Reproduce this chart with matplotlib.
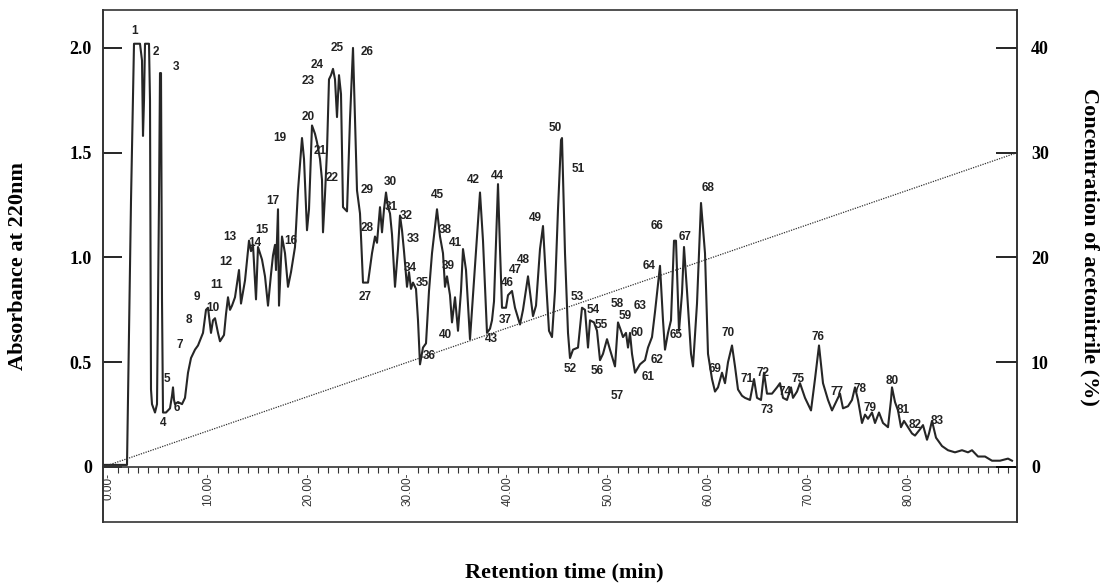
import matplotlib
matplotlib.use("Agg")
import matplotlib.pyplot as plt
from matplotlib.ticker import MultipleLocator, FixedLocator, FixedFormatter

# chromatogram trace: retention time (min) / absorbance at 220 nm
trace_time = [
    -0.5, 1.8, 1.9, 2.3, 2.6, 2.7, 3.2, 3.4, 3.5, 3.6, 3.7, 4.1, 4.2, 4.3, 4.4, 4.7, 4.9,
    5.1, 5.2, 5.3, 5.4, 5.5, 5.8, 6.2, 6.4, 6.5, 6.6, 6.7, 7.0, 7.4, 7.7, 8.0, 8.3, 8.7,
    9.0, 9.5, 9.8, 10.0, 10.3, 10.5, 10.7, 11.0, 11.2, 11.6, 11.8, 12.0, 12.2, 12.4, 12.7,
    13.1, 13.3, 13.7, 14.1, 14.3, 14.5, 14.8, 15.0, 15.4, 15.7, 16.0, 16.3, 16.5, 16.7,
    16.8, 17.0, 17.1, 17.4, 17.7, 18.0, 18.3, 18.7, 19.0, 19.4, 19.6, 19.9, 20.1, 20.4,
    20.7, 20.9, 21.2, 21.4, 21.5, 21.7, 21.9, 22.1, 22.3, 22.5, 22.7, 22.9, 23.1, 23.3,
    23.5, 23.9, 24.2, 24.5, 24.7, 24.9, 25.2, 25.5, 26.0, 26.4, 26.7, 26.9, 27.2, 27.4,
    27.6, 27.8, 28.0, 28.2, 28.4, 28.7, 29.0, 29.2, 29.4, 29.6, 29.9, 30.1, 30.3, 30.5,
    30.8, 31.0, 31.2, 31.5, 31.8, 32.1, 32.4, 32.9, 33.2, 33.5, 33.7, 33.9, 34.2, 34.4,
    34.7, 35.0, 35.3, 35.5, 35.8, 36.2, 36.6, 37.2, 37.5, 37.9, 38.2, 38.4, 38.6, 39.0,
    39.2, 39.4, 39.8, 40.0, 40.4, 40.7, 41.2, 41.5, 42.0, 42.5, 42.8, 43.2, 43.5, 43.8,
    44.1, 44.4, 44.7, 45.0, 45.3, 45.4, 45.7, 46.0, 46.2, 46.5, 47.0, 47.4, 47.7, 48.0,
    48.2, 48.6, 48.9, 49.2, 49.5, 49.9, 50.2, 50.7, 51.0, 51.3, 51.5, 51.8, 52.0, 52.2,
    52.4, 52.7, 53.2, 53.7, 54.0, 54.4, 54.7, 55.2, 55.5, 55.7, 56.0, 56.3, 56.6, 56.8,
    57.1, 57.4, 57.6, 57.9, 58.3, 58.5, 58.9, 59.3, 59.7, 60.0, 60.4, 60.7, 61.0, 61.4,
    61.7, 62.0, 62.4, 62.7, 63.0, 63.4, 63.7, 64.2, 64.6, 64.9, 65.3, 65.6, 65.9, 66.4,
    66.9, 67.2, 67.5, 67.9, 68.3, 68.5, 68.9, 69.2, 69.7, 70.3, 70.7, 71.1, 71.5, 72.0,
    72.4, 72.9, 73.2, 73.5, 74.0, 74.4, 74.7, 75.0, 75.4, 75.7, 76.0, 76.4, 76.7, 77.1,
    77.5, 78.0, 78.3, 78.4, 78.7, 79.0, 79.3, 79.6, 80.0, 80.4, 80.7, 81.2, 81.5, 81.9,
    82.1, 82.4, 82.8, 83.4, 84.0, 84.7, 85.4, 86.0, 86.4, 87.0, 87.7, 88.4, 89.2, 90.0, 90.4,
]
trace_abs = [
    0.01, 0.01, 0.01, 1.27, 2.02, 2.02, 2.02, 1.94, 1.58, 1.75, 2.02, 2.02, 1.75, 0.37, 0.30, 0.26, 0.30,
    1.27, 1.88, 1.88, 0.80, 0.26, 0.26, 0.28, 0.34, 0.38, 0.32, 0.30, 0.31, 0.30, 0.33, 0.45, 0.52, 0.56,
    0.58, 0.64, 0.75, 0.76, 0.64, 0.70, 0.71, 0.64, 0.60, 0.63, 0.73, 0.81, 0.75, 0.77, 0.81,
    0.94, 0.78, 0.89, 1.08, 1.03, 1.06, 0.80, 1.05, 0.99, 0.91, 0.77, 0.92, 1.01, 1.06,
    0.94, 1.23, 0.77, 1.10, 1.02, 0.86, 0.93, 1.05, 1.32, 1.57, 1.47, 1.13, 1.23, 1.63,
    1.59, 1.55, 1.47, 1.37, 1.12, 1.30, 1.51, 1.85, 1.87, 1.90, 1.85, 1.67, 1.87, 1.78,
    1.24, 1.22, 1.66, 2.00, 1.66, 1.32, 1.21, 0.88, 0.88, 1.02, 1.10, 1.07, 1.24, 1.12,
    1.23, 1.31, 1.24, 1.21, 1.11, 0.86, 1.04, 1.20, 1.13, 1.03, 0.86, 0.93, 0.85, 0.88,
    0.85, 0.70, 0.49, 0.57, 0.59, 0.84, 1.02, 1.23, 1.10, 1.02, 0.86, 0.91, 0.82, 0.69,
    0.81, 0.65, 0.84, 1.04, 0.94, 0.61, 0.89, 1.31, 1.08, 0.64, 0.66, 0.70, 0.79, 1.35,
    1.04, 0.76, 0.76, 0.82, 0.84, 0.76, 0.68, 0.75, 0.91, 0.72, 0.77, 1.04, 1.15, 0.89,
    0.65, 0.62, 0.84, 1.23, 1.56, 1.57, 1.02, 0.64, 0.52, 0.56, 0.57, 0.76, 0.75, 0.57,
    0.70, 0.69, 0.65, 0.51, 0.54, 0.61, 0.56, 0.48, 0.69, 0.65, 0.62, 0.64, 0.57, 0.64,
    0.54, 0.45, 0.49, 0.51, 0.57, 0.62, 0.74, 0.96, 0.70, 0.56, 0.64, 0.70, 1.08, 1.08,
    0.65, 0.83, 1.05, 0.84, 0.54, 0.48, 0.78, 1.26, 1.02, 0.54, 0.42, 0.36, 0.38, 0.45,
    0.40, 0.50, 0.58, 0.48, 0.37, 0.34, 0.33, 0.32, 0.42, 0.33, 0.32, 0.45, 0.35, 0.35,
    0.38, 0.40, 0.33, 0.32, 0.38, 0.33, 0.36, 0.40, 0.33, 0.27, 0.42, 0.58, 0.40, 0.32,
    0.27, 0.32, 0.35, 0.28, 0.29, 0.32, 0.38, 0.32, 0.21, 0.25, 0.23, 0.26, 0.21, 0.26,
    0.21, 0.19, 0.32, 0.38, 0.31, 0.27, 0.19, 0.22, 0.19, 0.16, 0.15, 0.18, 0.20, 0.13,
    0.16, 0.22, 0.14, 0.10, 0.08, 0.07, 0.08, 0.07, 0.08, 0.05, 0.05, 0.03, 0.03, 0.04, 0.03,
]

# acetonitrile gradient (dotted line)
gradient_time = [-0.5, 90.9]
gradient_conc = [0, 30]

# peak numbers and where they are printed (time, absorbance)
peak_ids = [str(i) for i in range(1, 18)] + [str(i) for i in range(19, 84)]
peak_time = [
    2.7, 4.8, 6.8, 5.5, 5.9, 6.9, 7.2, 8.1, 8.9, 10.5, 10.9, 11.8, 12.2, 14.7, 15.4, 18.3, 16.5,
    17.2, 20.0, 21.2, 22.4, 20.0, 20.9, 22.9, 25.9, 25.7, 25.9, 25.9, 28.2, 28.3, 29.8,
    30.5, 30.2, 31.4, 32.1, 39.7, 33.7, 34.0, 33.7, 34.7, 36.5, 38.3, 38.9, 32.9, 39.9,
    40.7, 41.5, 42.7, 44.7, 47.0, 46.2, 46.9, 48.5, 49.3, 48.9, 50.9, 50.9, 51.7, 52.9,
    54.0, 54.9, 53.2, 54.1, 56.8, 54.9, 57.7, 60.0, 60.7, 62.0, 63.9, 65.5, 65.9, 67.7,
    69.0, 71.0, 72.9, 75.2, 76.2, 78.4, 79.5, 80.7, 82.9,
]
peak_abs = [
    2.08, 1.98, 1.91, 0.21, 0.42, 0.28, 0.58, 0.70, 0.81, 0.76, 0.87, 0.98, 1.10, 1.07, 1.13, 1.08, 1.27,
    1.57, 1.67, 1.51, 1.38, 1.84, 1.92, 2.00, 1.98, 0.81, 1.14, 1.32, 1.36, 1.24, 1.20,
    1.09, 0.95, 0.88, 0.53, 0.70, 1.13, 0.96, 0.63, 1.07, 1.37, 0.61, 1.39, 1.30, 0.88,
    0.94, 0.99, 1.19, 1.62, 1.42, 0.47, 0.81, 0.75, 0.68, 0.46, 0.34, 0.78, 0.72, 0.64,
    0.43, 0.51, 0.77, 0.96, 0.63, 1.15, 1.10, 1.33, 0.47, 0.64, 0.42, 0.45, 0.27, 0.36,
    0.42, 0.62, 0.36, 0.37, 0.28, 0.41, 0.27, 0.20, 0.22,
]

abs_ticks = [0, 0.5, 1.0, 1.5, 2.0]
abs_labels = ["0", "0.5", "1.0", "1.5", "2.0"]
conc_ticks = [0, 10, 20, 30, 40]
time_ticks = [0, 10, 20, 30, 40, 50, 60, 70, 80]

serif = "Liberation Serif"
sans = "Liberation Sans"

fig = plt.figure(figsize=(11.06, 5.83), dpi=100, facecolor="white")
ax = fig.add_axes([103 / 1106, 61 / 583, 914 / 1106, 512 / 583])
ax.set_xlim(-0.5, 90.9)
ax.set_ylim(-0.2625, 2.181)

ax.plot(trace_time, trace_abs, color="#262626", lw=1.5, solid_joinstyle="round")

# x axis sits on the zero line, like the recorder print-out
ax.spines["bottom"].set_position(("data", 0))
ax.spines["top"].set_visible(False)
for s in ax.spines.values():
    s.set_linewidth(1.2)
    s.set_color("#333333")
ax.xaxis.set_major_locator(FixedLocator(time_ticks))
ax.xaxis.set_major_formatter(FixedFormatter(["%.2f-" % v for v in time_ticks]))
ax.xaxis.set_minor_locator(MultipleLocator(1))
ax.tick_params(axis="x", which="major", length=0, pad=4, labelsize=8.5, labelrotation=90)
ax.tick_params(axis="x", which="minor", length=4, width=0.8, direction="out", color="#333333")
for lab in ax.get_xticklabels():
    lab.set_fontfamily(sans)
    lab.set_color("#333333")

ax.set_yticks(abs_ticks)
ax.set_yticklabels(abs_labels)
ax.tick_params(axis="y", direction="in", length=14, width=1.2, pad=8, labelsize=13)
for lab in ax.get_yticklabels():
    lab.set_fontfamily(serif)
    lab.set_fontweight("bold")

for pid, t, a in zip(peak_ids, peak_time, peak_abs):
    ax.text(t, a, pid, ha="center", va="center", fontsize=8.5, fontweight="bold",
            family=sans, color="#222222")

ax2 = ax.twinx()
ax2.set_ylim(-0.2625 * 20, 2.181 * 20)
ax2.plot(gradient_time, gradient_conc, color="#333333", lw=0.9, linestyle=(0, (1, 1)))
ax2.set_yticks(conc_ticks)
ax2.tick_params(axis="y", direction="in", length=15, width=1.2, pad=10, labelsize=13)
for lab in ax2.get_yticklabels():
    lab.set_fontfamily(serif)
    lab.set_fontweight("bold")
for s in ax2.spines.values():
    s.set_linewidth(1.2)
    s.set_color("#333333")

fig.text(18 / 1106, 1 - 266 / 583, "Absorbance at 220nm", rotation=90, ha="center",
         va="center", fontsize=16, fontweight="bold", family=serif)
fig.text(1090 / 1106, 1 - 247 / 583, "Concentration of acetonitrile (%)", rotation=270,
         ha="center", va="center", fontsize=16, fontweight="bold", family=serif)
fig.text(564 / 1106, 1 - 572 / 583, "Retention time (min)", ha="center", va="center",
         fontsize=16, fontweight="bold", family=serif)

fig.savefig("out.png", dpi=100)
